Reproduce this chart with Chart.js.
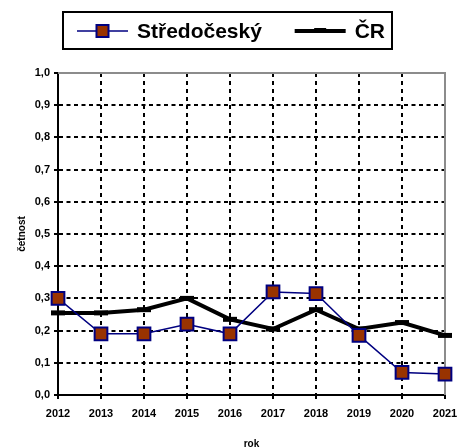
<!DOCTYPE html>
<html>
<head>
<meta charset="utf-8">
<title>Středočeský – četnost</title>
<script src="https://cdn.jsdelivr.net/npm/chart.js@4.4.1/dist/chart.umd.min.js"></script>
<style>
	html, body { margin: 0; padding: 0; background: #fff; }
	#chart { display: block; }
</style>
</head>
<body>
<canvas id="chart" width="457" height="447"></canvas>
<script>
// data
const years = ['2012', '2013', '2014', '2015', '2016', '2017', '2018', '2019', '2020', '2021'];
const stredocesky = [0.30, 0.19, 0.19, 0.22, 0.19, 0.32, 0.315, 0.185, 0.07, 0.065];
const cr = [0.255, 0.255, 0.265, 0.30, 0.235, 0.205, 0.265, 0.205, 0.225, 0.185];
const yTickLabels = ['0,0', '0,1', '0,2', '0,3', '0,4', '0,5', '0,6', '0,7', '0,8', '0,9', '1,0'];

const FONT = '"Liberation Sans", Arial, sans-serif';

// gray frame on top and right of the plot area
const plotFrame = {
	id: 'plotFrame',
	beforeDatasetsDraw(chart) {
		const {ctx, chartArea: a} = chart;
		ctx.save();
		ctx.strokeStyle = '#8c8c8c';
		ctx.lineWidth = 2;
		ctx.beginPath();
		ctx.moveTo(a.left, a.top);
		ctx.lineTo(a.right, a.top);
		ctx.lineTo(a.right, a.bottom);
		ctx.stroke();
		ctx.restore();
	}
};

// legend in a black box, like the original
const boxLegend = {
	id: 'boxLegend',
	afterDraw(chart) {
		const ctx = chart.ctx;
		const sets = chart.data.datasets;
		const left = 63, right = 392, top = 12, bottom = 49;
		const symW = 51, gap = 9, padL = 14, padR = 7, cy = 31;

		ctx.save();
		ctx.font = 'bold 21px ' + FONT;
		const widths = sets.map(ds => ctx.measureText(ds.label).width);
		let used = 0;
		widths.forEach(w => used += symW + gap + w);
		const sep = (right - left - padL - padR - used) / (sets.length - 1);

		ctx.strokeStyle = '#000';
		ctx.lineWidth = 2;
		ctx.strokeRect(left, top, right - left, bottom - top);

		let x = left + padL;
		sets.forEach((ds, i) => {
			ctx.strokeStyle = ds.borderColor;
			ctx.lineWidth = ds.borderWidth;
			ctx.beginPath();
			ctx.moveTo(x, cy);
			ctx.lineTo(x + symW, cy);
			ctx.stroke();
			const mx = x + symW / 2;
			if (ds.pointStyle === 'rect') {
				const s = 12;
				ctx.fillStyle = ds.pointBackgroundColor;
				ctx.fillRect(mx - s / 2, cy - s / 2, s, s);
				ctx.lineWidth = ds.pointBorderWidth;
				ctx.strokeStyle = ds.pointBorderColor;
				ctx.strokeRect(mx - s / 2, cy - s / 2, s, s);
			} else {
				ctx.lineWidth = ds.borderWidth + 1;
				ctx.beginPath();
				ctx.moveTo(mx - 6, cy - 0.5);
				ctx.lineTo(mx + 6, cy - 0.5);
				ctx.stroke();
			}
			ctx.fillStyle = '#000';
			ctx.textBaseline = 'middle';
			ctx.textAlign = 'left';
			ctx.fillText(ds.label, x + symW + gap, cy + 1);
			x += symW + gap + widths[i] + sep;
		});
		ctx.restore();
	}
};

const ctx = document.getElementById('chart').getContext('2d');

const chart = new Chart(ctx, {
	type: 'line',
	data: {
		labels: years,
		datasets: [{
			label: 'Středočeský',
			data: stredocesky,
			borderColor: '#000080',
			borderWidth: 1.5,
			pointStyle: 'rect',
			pointRadius: 9,
			pointHoverRadius: 9,
			pointBackgroundColor: '#993300',
			pointBorderColor: '#000080',
			pointBorderWidth: 2,
			tension: 0
		}, {
			label: 'ČR',
			data: cr,
			borderColor: '#000',
			borderWidth: 4,
			pointStyle: 'line',
			pointRadius: 7,
			pointBorderColor: '#000',
			pointBorderWidth: 5,
			tension: 0
		}]
	},
	options: {
		responsive: false,
		animation: false,
		devicePixelRatio: 1,
		layout: {
			padding: {left: 0, right: 12, top: 73, bottom: 0}
		},
		plugins: {
			legend: {display: false},
			tooltip: {enabled: false}
		},
		scales: {
			x: {
				type: 'category',
				offset: false,
				afterFit: function(scale) {
					scale.height = 52;
					scale.paddingRight = 0;
					scale.paddingLeft = 0;
				},
				grid: {
					color: '#000',
					lineWidth: 2,
					tickColor: '#000',
					tickLength: 4,
					tickWidth: 2,
					offset: false
				},
				border: {display: true, color: '#000', width: 2, dash: [4, 4]},
				ticks: {
					color: '#000',
					font: {family: FONT, size: 11, weight: 'bold'},
					padding: 8,
					maxRotation: 0,
					autoSkip: false
				},
				title: {
					display: true,
					text: 'rok',
					color: '#000',
					font: {family: FONT, size: 10, weight: 'bold'},
					padding: {top: 0, bottom: -3}
				}
			},
			y: {
				min: 0,
				max: 1,
				afterFit: function(scale) { scale.width = 58; },
				grid: {
					color: c => (c.tick && c.tick.value >= 1 ? 'rgba(0,0,0,0)' : '#000'),
					lineWidth: 2,
					tickColor: '#000',
					tickLength: 4,
					tickWidth: 2
				},
				border: {display: true, color: '#000', width: 2, dash: [4, 3.5]},
				ticks: {
					stepSize: 0.1,
					color: '#000',
					padding: 4,
					font: {family: FONT, size: 11, weight: 'bold'},
					callback: function(value, index) { return yTickLabels[index]; }
				},
				title: {
					display: true,
					text: 'četnost',
					color: '#000',
					font: {family: FONT, size: 10, weight: 'bold'},
					padding: {top: 16, bottom: 0}
				}
			}
		}
	},
	plugins: [plotFrame, boxLegend]
});
</script>
</body>
</html>
